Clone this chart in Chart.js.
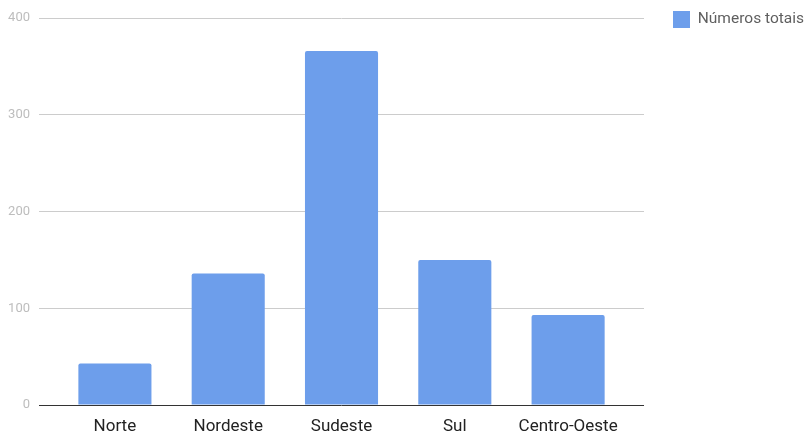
<!DOCTYPE html>
<html>
<head>
<meta charset="utf-8">
<script src="https://cdn.jsdelivr.net/npm/chart.js@4.4.0/dist/chart.umd.min.js"></script>
<style>
  html, body { margin: 0; padding: 0; background: #fff; }
  #wrap { width: 810px; height: 433px; }
</style>
</head>
<body>
<div id="wrap"><canvas id="grafico"></canvas></div>
<script>
// Dados do gráfico
var regioes = ['Norte', 'Nordeste', 'Sudeste', 'Sul', 'Centro-Oeste'];
var numerosTotais = [43, 136, 366, 150, 93];
var serieNome = 'Números totais';
var yTicks = [0, 100, 200, 300, 400];

Chart.defaults.font.family = 'Roboto';

function corGrade(ctx) {
    return ctx.tick && ctx.tick.value === 0 ? '#333333' : '#cccccc';
}

// pontos {x: índice da região, y: valor}
var pontos = regioes.map(function (r, i) { return { x: i, y: numerosTotais[i] }; });

var ctx = document.getElementById('grafico').getContext('2d');
var grafico = new Chart(ctx, {
    type: 'bar',
    data: {
        datasets: [{
            label: serieNome,
            data: pontos,
            backgroundColor: '#6d9eeb',
            borderRadius: 2,
            borderSkipped: 'bottom',
            categoryPercentage: 1,
            barPercentage: 0.645
        }]
    },
    options: {
        responsive: true,
        maintainAspectRatio: false,
        animation: false,
        layout: { padding: { right: -4 } },
        plugins: {
            legend: {
                position: 'right',
                align: 'start',
                labels: {
                    boxWidth: 17,
                    boxHeight: 17,
                    padding: 11,
                    color: '#5f5f5f',
                    font: { size: 15.5 }
                }
            },
            tooltip: { enabled: false }
        },
        scales: {
            x: {
                type: 'linear',
                min: -0.67,
                max: regioes.length - 1 + 0.67,
                offset: false,
                grid: { display: false, offset: false },
                border: { display: false },
                ticks: {
                    stepSize: 1,
                    includeBounds: false,
                    autoSkip: false,
                    maxRotation: 0,
                    color: '#222222',
                    font: { size: 17 },
                    padding: 4,
                    callback: function (v) { return Number.isInteger(v) ? regioes[v] : ''; }
                },
                afterFit: function (s) { s.height = 28; }
            },
            x2: {
                type: 'linear',
                position: 'top',
                grid: { display: false },
                border: { display: false },
                ticks: { display: false },
                afterFit: function (s) { s.height = 18; }
            },
            y: {
                min: yTicks[0],
                max: yTicks[yTicks.length - 1],
                ticks: { stepSize: 100, color: '#bdbdbd', font: { size: 13 }, padding: 9 },
                grid: { color: corGrade, drawTicks: false, lineWidth: 1 },
                border: { display: false },
                afterFit: function (s) { s.width = 39; }
            },
            y2: {
                position: 'right',
                display: false,
                afterFit: function (s) { s.width = 18; }
            }
        }
    }
});
</script>
</body>
</html>
